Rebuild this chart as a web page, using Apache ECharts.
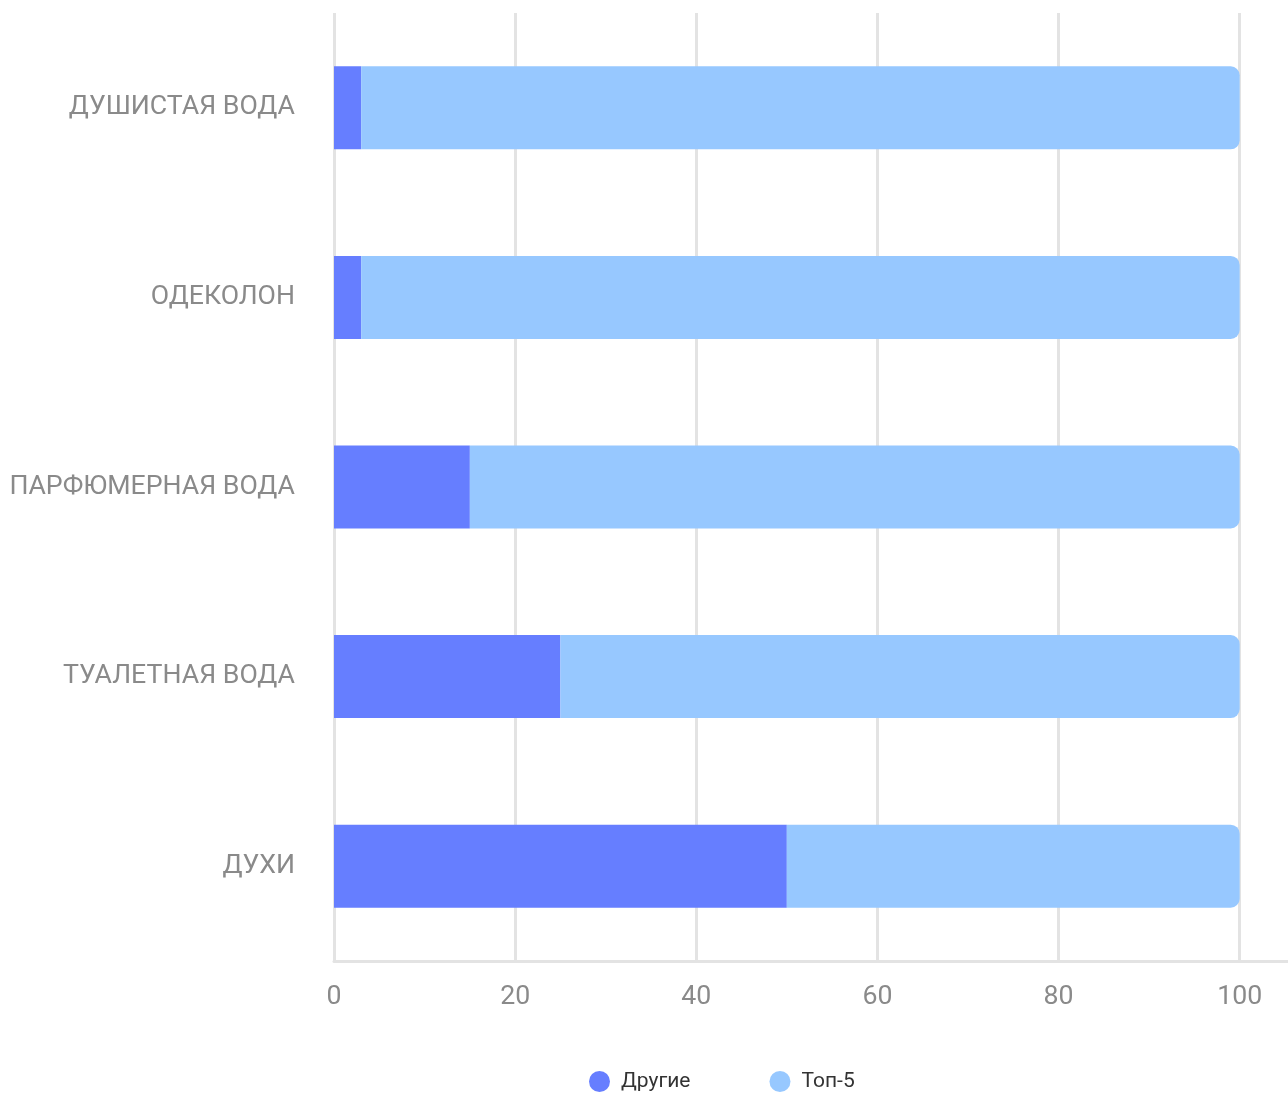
<!DOCTYPE html>
<html><head><meta charset="utf-8">
<script src="https://cdn.jsdelivr.net/npm/echarts@6/dist/echarts.min.js"></script>
<style>html,body{margin:0;padding:0;background:#fff}#c{width:1288px;height:1094px}</style>
</head><body><div id="c"></div>
<script>
var categories = ['ДУХИ', 'ТУАЛЕТНАЯ ВОДА', 'ПАРФЮМЕРНАЯ ВОДА', 'ОДЕКОЛОН', 'ДУШИСТАЯ ВОДА'];
var others = [50, 25, 15, 3, 3];
var top5 = [50, 75, 85, 97, 97];
var seriesNames = ['Другие', 'Топ-5'];
var xTicks = [0, 20, 40, 60, 80, 100];

var chart = echarts.init(document.getElementById('c'));
chart.setOption({
  animation: false,
  textStyle: { fontFamily: 'Roboto' },
  grid: { left: 334, width: 960, top: 13, bottom: 133, outerBoundsMode: 'none', containLabel: false },
  legend: {
    top: 1066, left: 584,
    icon: 'circle', itemWidth: 21, itemHeight: 21, itemGap: 79,
    textStyle: { fontSize: 21, color: '#333', fontFamily: 'Roboto', padding: [0, 0, 0, 6] },
    data: seriesNames
  },
  xAxis: {
    type: 'value', min: 0, max: 106, interval: 20,
    axisLine: { show: true, lineStyle: { color: '#e3e3e3', width: 3 } },
    axisTick: { show: false },
    splitLine: { show: true, lineStyle: { color: '#e3e3e3', width: 3 } },
    axisLabel: {
      fontSize: 26.7, color: '#8a8a8a', margin: 23, fontFamily: 'Roboto',
      formatter: function (v) { return xTicks.indexOf(v) >= 0 ? String(v) : ''; }
    }
  },
  yAxis: {
    type: 'category', data: categories,
    axisLine: { show: false }, axisTick: { show: false },
    axisLabel: { fontSize: 26.7, color: '#8a8a8a', margin: 39, fontFamily: 'Roboto' }
  },
  series: [
    { name: seriesNames[0], type: 'bar', stack: 's', data: others, barWidth: 83,
      itemStyle: { color: '#667eff' } },
    { name: seriesNames[1], type: 'bar', stack: 's', data: top5, barWidth: 83,
      itemStyle: { color: '#97c8ff', borderRadius: [0, 9, 9, 0] } }
  ]
});
</script></body></html>
